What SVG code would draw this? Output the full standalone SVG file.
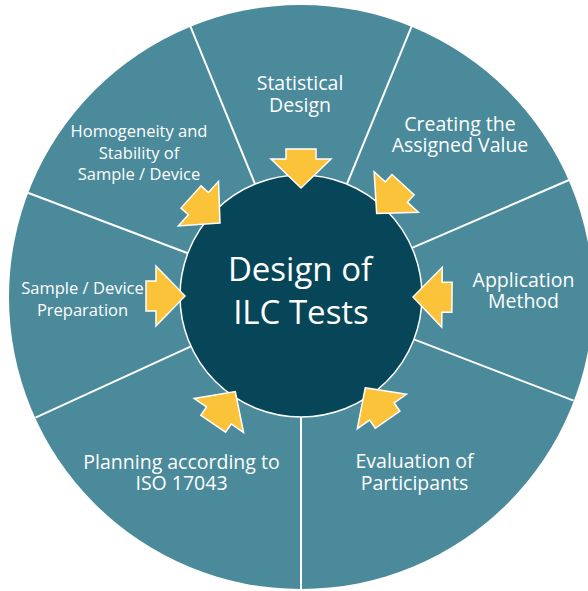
<svg xmlns="http://www.w3.org/2000/svg" width="588" height="591" viewBox="0 0 588 591">
  <defs>
    <style>
      .ring { fill: #4a8a9b; }
      .divider { stroke: #ffffff; stroke-width: 2; }
      .hub { fill: #064658; stroke: #ffffff; stroke-width: 1.5; }
      .arrow { fill: #fbc33a; stroke: #ffffff; stroke-width: 1.5; stroke-linejoin: miter; }
      .lbl { font-family: "Open Sans", "Liberation Sans", sans-serif; fill: #ffffff; text-anchor: middle; font-size: 19.5px; }
      .lbl-sm { font-size: 16.5px; }
      .title { font-family: "Open Sans", "Liberation Sans", sans-serif; fill: #ffffff; text-anchor: middle; font-size: 33px; }
    </style>
    <!-- block arrow pointing down (+y), tip at origin -->
    <polygon id="arr" points="0,0 -30,-29 -15,-29 -15,-39 15,-39 15,-29 30,-29"/>
  </defs>

  <!-- outer wheel with segment dividers -->
  <g id="wheel">
    <circle class="ring" cx="301" cy="297" r="292"/>
    <g class="divider" transform="translate(301,296)">
      <line x1="0" y1="-121" x2="0" y2="-292" transform="rotate(-22.3)"/>
      <line x1="0" y1="-121" x2="0" y2="-292" transform="rotate(22.3)"/>
      <line x1="0" y1="-121" x2="0" y2="-292" transform="rotate(66.6)"/>
      <line x1="0" y1="-121" x2="0" y2="-292" transform="rotate(111)"/>
      <line x1="0" y1="-121" x2="0" y2="-295" transform="rotate(180)"/>
      <line x1="0" y1="-121" x2="0" y2="-292" transform="rotate(245.4)"/>
      <line x1="0" y1="-121" x2="0" y2="-292" transform="rotate(290.7)"/>
    </g>
  </g>

  <!-- central hub -->
  <g id="node-center">
    <circle class="hub" cx="301" cy="296" r="121"/>
    <text class="title" x="300" y="281">Design of</text>
    <text class="title" x="301" y="324">ILC Tests</text>
  </g>

  <!-- arrows feeding into the hub -->
  <g id="connectors" class="arrow">
    <use href="#arr" transform="translate(301,296) rotate(0) translate(0,-108)"/>
    <use href="#arr" transform="translate(301,296) rotate(42.5) translate(0,-112)"/>
    <use href="#arr" transform="translate(301,296) rotate(90.5) translate(0,-112)"/>
    <use href="#arr" transform="translate(301,296) rotate(145) translate(0,-112)"/>
    <use href="#arr" transform="translate(301,296) rotate(214.5) translate(0,-116)"/>
    <use href="#arr" transform="translate(301,296) rotate(270) translate(0,-116)"/>
    <use href="#arr" transform="translate(301,296) rotate(312) translate(0,-109)"/>
  </g>

  <g id="node-statistical">
    <text class="lbl" x="300" y="90">Statistical</text>
    <text class="lbl" x="300" y="111.5">Design</text>
  </g>
  <g id="node-assigned-value">
    <text class="lbl" x="460" y="131">Creating the</text>
    <text class="lbl" x="460" y="152">Assigned Value</text>
  </g>
  <g id="node-application">
    <text class="lbl" x="523.5" y="287">Application</text>
    <text class="lbl" x="523.5" y="308">Method</text>
  </g>
  <g id="node-evaluation">
    <text class="lbl" x="414.5" y="468">Evaluation of</text>
    <text class="lbl" x="414.5" y="489.5">Participants</text>
  </g>
  <g id="node-planning">
    <text class="lbl" x="181.5" y="469">Planning according to</text>
    <text class="lbl" x="181.5" y="490">ISO 17043</text>
  </g>
  <g id="node-preparation">
    <text class="lbl lbl-sm" x="82.5" y="294">Sample / Device</text>
    <text class="lbl lbl-sm" x="82.5" y="316">Preparation</text>
  </g>
  <g id="node-homogeneity">
    <text class="lbl lbl-sm" x="139" y="137">Homogeneity and</text>
    <text class="lbl lbl-sm" x="139" y="158.5">Stability of</text>
    <text class="lbl lbl-sm" x="139" y="180">Sample / Device</text>
  </g>
</svg>
